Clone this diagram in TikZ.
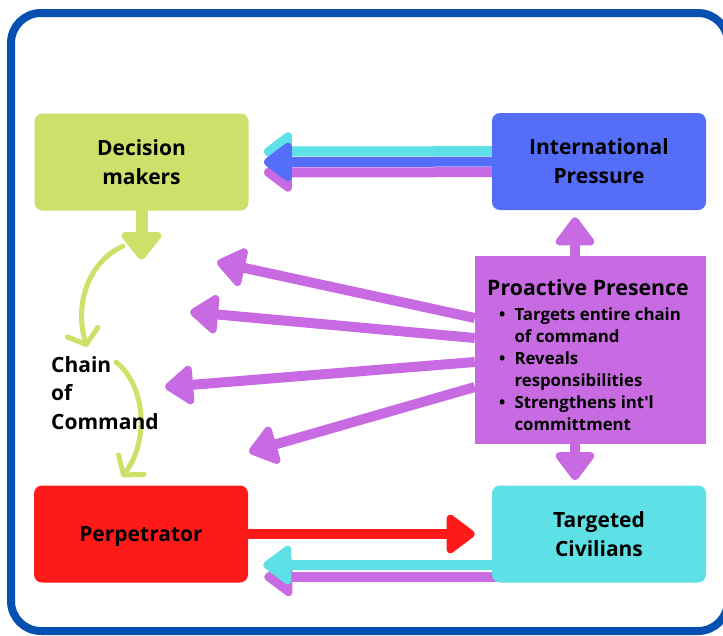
\documentclass[tikz,border=0pt]{standalone}
\usepackage{fontspec}
\setmainfont{Open Sans}
\usetikzlibrary{arrows.meta,positioning}
\pgfdeclarelayer{back}
\pgfsetlayers{back,main}

\definecolor{frameblue}{RGB}{6,80,178}
\definecolor{decgreen}{RGB}{205,224,106}
\definecolor{intblue}{RGB}{84,110,250}
\definecolor{propurple}{RGB}{200,107,227}
\definecolor{civcyan}{RGB}{94,225,230}
\definecolor{perpred}{RGB}{255,26,26}

\tikzset{
  box/.style={rounded corners=8pt, minimum width=214pt, minimum height=97pt, align=center, inner sep=0pt, font=\fontsize{21}{29}\selectfont\bfseries},
  bigarrow/.style={line width=10pt, -{Triangle[round, length=31pt, width=44pt]}},
  chainarrow/.style={line width=5pt, line cap=round, decgreen, -{Straight Barb[round, length=13pt, width=32pt]}},
  framebox/.style={line width=8pt, frameblue, rounded corners=30pt}
}

\begin{document}
\begin{tikzpicture}[x=1pt,y=-1pt]
\useasboundingbox (0,0) rectangle (723,635);

% boxes
\node[box, fill=decgreen] (dec) at (141.5,162) {Decision\\makers};
\node[box, fill=intblue] (int) at (599,161.5) {International\\Pressure};
\node[box, fill=civcyan] (civ) at (599,534) {Targeted\\Civilians};
\node[box, fill=perpred, text depth=0pt] (perp) at (141,534) {Perpetrator};
\node[fill=propurple, minimum width=231pt, minimum height=188pt, inner sep=0pt] (pro) at (590.5,350) {};
\node[anchor=base west, inner sep=0pt, font=\bfseries] (protext) at (487,295) {\fontsize{16.8}{22}\selectfont
  \begin{tabular}[t]{@{\hspace{12pt}}l@{\hspace{9pt}}l@{}}
  \multicolumn{2}{@{}l@{}}{\fontsize{21.3}{20}\selectfont Proactive Presence}\\[3pt]
  \textbullet & Targets entire chain\\
   & of command\\
  \textbullet & Reveals\\
   & responsibilities\\
  \textbullet & Strengthens int\textquotesingle l\\
   & committment
  \end{tabular}};
\node[anchor=west, align=left, inner sep=0pt, font=\fontsize{21}{28.5}\selectfont\bfseries] (chain) at (51,393) {Chain\\of\\Command};

% free ends
\coordinate (dectip) at ([yshift=-49pt]dec.south);
\coordinate (c1a) at (123,246);
\coordinate (c1b) at (87,347);
\coordinate (c2a) at (116,362);
\coordinate (c2b) at (122,477);
\coordinate (f1) at (217,262);
\coordinate (f2) at (190,312);
\coordinate (f3) at (165,387);
\coordinate (f4) at (249,452);

\begin{pgfonlayer}{back}
\draw[framebox] (11,13) rectangle (728,631);

% pressure back to decision makers
\draw[bigarrow, civcyan] ([yshift=10.5pt]int.center) -- ([yshift=10.5pt, xshift=15pt]dec.east);
\draw[bigarrow, propurple] ([yshift=-10.5pt]int.center) -- ([yshift=-10.5pt, xshift=15pt]dec.east);
\draw[bigarrow, intblue] (int.center) -- ([xshift=15pt]dec.east);

% chain of command
\draw[line width=12pt, decgreen, -{Triangle[round, length=30pt, width=46pt]}] (dec.center) -- (dectip);
\draw[chainarrow] (c1a) .. controls (88,262) and (74,305) .. (c1b);
\draw[chainarrow] (c2a) .. controls (145,385) and (150,440) .. (c2b);

% proactive presence
\draw[bigarrow, propurple] ([yshift=32pt]pro.west) -- (f1);
\draw[bigarrow, propurple] ([yshift=12pt]pro.west) -- (f2);
\draw[bigarrow, propurple] ([yshift=-12pt]pro.west) -- (f3);
\draw[bigarrow, propurple] ([yshift=-37pt]pro.west) -- (f4);
\draw[bigarrow, propurple] ([xshift=-15.5pt]pro.north) -- ([xshift=-24pt, yshift=-7pt]int.south);
\draw[bigarrow, propurple] ([xshift=-15.5pt]pro.south) -- ([xshift=-24pt, yshift=5pt]civ.north);

% perpetrator and civilians
\draw[bigarrow, perpred] (perp.center) -- ([xshift=-17pt]civ.west);
\draw[bigarrow, propurple] ([yshift=-43pt]civ.center) -- ([yshift=-43pt, xshift=16pt]perp.east);
\draw[bigarrow, civcyan] ([yshift=-31pt]civ.center) -- ([yshift=-31pt, xshift=15pt]perp.east);
\end{pgfonlayer}
\end{tikzpicture}
\end{document}
